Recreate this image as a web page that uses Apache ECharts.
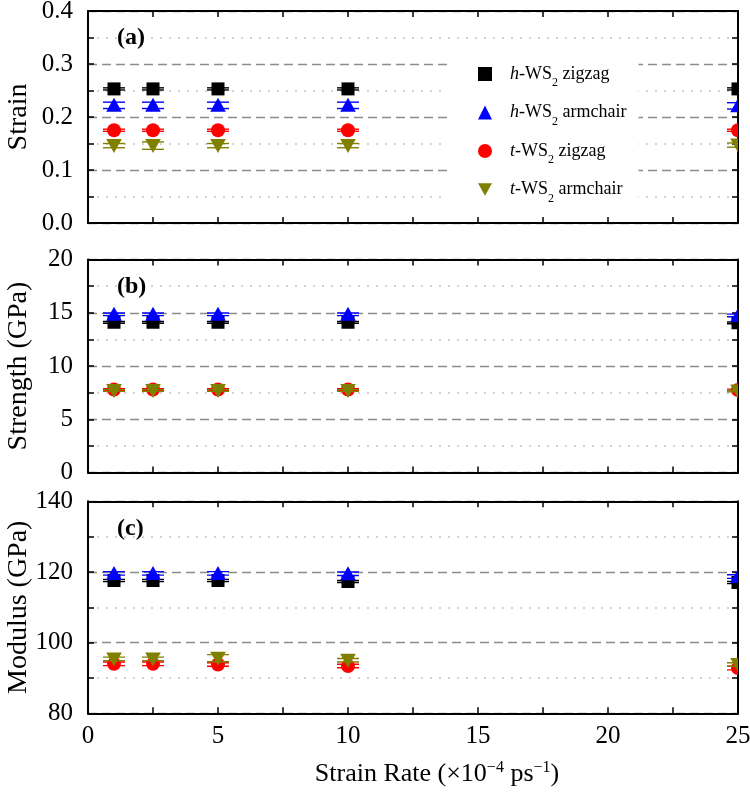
<!DOCTYPE html>
<html>
<head>
<meta charset="utf-8">
<script src="https://cdn.jsdelivr.net/npm/echarts@6/dist/echarts.min.js"></script>
<style>html,body{margin:0;padding:0;background:#fff}#c{width:750px;height:802px}</style>
</head>
<body>
<div id="c"></div>
<script>
// ---------- data ----------
const rates = [1, 2.5, 5, 10, 25];
const seriesNames = ['h-WS2 zigzag', 'h-WS2 armchair', 't-WS2 zigzag', 't-WS2 armchair'];

// (a) Strain
const strainHZig = [0.253, 0.253, 0.253, 0.253, 0.253];
const strainHArm = [0.222, 0.222, 0.222, 0.222, 0.221];
const strainTZig = [0.175, 0.175, 0.175, 0.175, 0.175];
const strainTArm = [0.146, 0.146, 0.146, 0.146, 0.147];
const strainErrHZig = [0.002, 0.002, 0.002, 0.002, 0.002];
const strainErrHArm = [0.006, 0.006, 0.006, 0.006, 0.006];
const strainErrTZig = [0.002, 0.002, 0.002, 0.002, 0.002];
const strainErrTArm = [0.004, 0.007, 0.004, 0.004, 0.004];

// (b) Strength (GPa)
const strengthHZig = [14.1, 14.1, 14.1, 14.1, 14.05];
const strengthHArm = [14.85, 14.85, 14.85, 14.85, 14.75];
const strengthTZig = [7.8, 7.8, 7.8, 7.8, 7.75];
const strengthTArm = [7.7, 7.7, 7.7, 7.7, 7.65];
const strengthErrHZig = [0.08, 0.08, 0.08, 0.08, 0.08];
const strengthErrHArm = [0.12, 0.12, 0.12, 0.12, 0.12];
const strengthErrTZig = [0.08, 0.08, 0.08, 0.08, 0.08];
const strengthErrTArm = [0.08, 0.08, 0.08, 0.08, 0.08];

// (c) Modulus (GPa)
const modulusHZig = [117.6, 117.6, 117.6, 117.3, 117.0];
const modulusHArm = [119.6, 119.6, 119.6, 119.5, 118.7];
const modulusTZig = [94.0, 94.0, 93.8, 93.4, 92.8];
const modulusTArm = [95.4, 95.4, 95.6, 95.0, 93.8];
const modulusErrHZig = [0.3, 0.3, 0.3, 0.3, 0.3];
const modulusErrHArm = [0.5, 0.5, 0.5, 0.5, 0.5];
const modulusErrTZig = [0.5, 0.5, 0.5, 0.5, 0.5];
const modulusErrTArm = [0.5, 0.5, 1.0, 0.5, 0.5];

// axis ranges / ticks
const xRange = {min: 0, max: 25, interval: 5};
const strainRange = {min: 0, max: 0.4, interval: 0.1};
const strengthRange = {min: 0, max: 20, interval: 5};
const modulusRange = {min: 80, max: 140, interval: 20};
const panelLabels = ['(a)', '(b)', '(c)'];
const yNames = ['Strain', 'Strength (GPa)', 'Modulus (GPa)'];

// ---------- styles ----------
const FONT = 'Liberation Serif';
const colors = ['#000000', '#0000ff', '#ff0000', '#808000'];
const shapes = ['square', 'triangle', 'circle', 'down'];

function makeRender(shape, color) {
  return function (params, api) {
    const x = api.value(0), y = api.value(1), e = api.value(2);
    const p = api.coord([x, y]);
    const t = api.coord([x, y + e]);
    const b = api.coord([x, y - e]);
    const cap = 11;
    const ls = {stroke: color, lineWidth: 1.4};
    const children = [
      {type: 'line', shape: {x1: p[0], y1: t[1], x2: p[0], y2: b[1]}, style: ls},
      {type: 'line', shape: {x1: p[0] - cap, y1: t[1], x2: p[0] + cap, y2: t[1]}, style: ls},
      {type: 'line', shape: {x1: p[0] - cap, y1: b[1], x2: p[0] + cap, y2: b[1]}, style: ls}
    ];
    let m;
    if (shape === 'square') {
      m = {type: 'rect', shape: {x: p[0] - 6.5, y: p[1] - 6.5, width: 13, height: 13}, style: {fill: color}};
    } else if (shape === 'triangle') {
      m = {type: 'polygon', shape: {points: [[p[0], p[1] - 7.5], [p[0] + 7.8, p[1] + 6.5], [p[0] - 7.8, p[1] + 6.5]]}, style: {fill: color}};
    } else if (shape === 'circle') {
      m = {type: 'circle', shape: {cx: p[0], cy: p[1], r: 7}, style: {fill: color}};
    } else {
      m = {type: 'polygon', shape: {points: [[p[0] - 7.8, p[1] - 6.5], [p[0] + 7.8, p[1] - 6.5], [p[0], p[1] + 7.5]]}, style: {fill: color}};
    }
    children.push(m);
    return {type: 'group', children: children};
  };
}

const grids = [
  {left: 88, right: 12, top: 11, height: 212, outerBoundsMode: 'none', containLabel: false},
  {left: 88, right: 12, top: 259.5, height: 213, outerBoundsMode: 'none', containLabel: false},
  {left: 88, right: 12, top: 501.3, height: 212, outerBoundsMode: 'none', containLabel: false}
];
const yRanges = [strainRange, strengthRange, modulusRange];

const axisLine = {show: true, onZero: false, lineStyle: {color: '#000', width: 2}};
const tickStyle = {show: true, inside: true, length: 6, lineStyle: {color: '#000', width: 1.5}};
const minorTick = {show: true, splitNumber: 2, length: 6, lineStyle: {color: '#000', width: 1.5}};

const xAxes = [], yAxes = [];
for (let g = 0; g < 3; g++) {
  const last = g === 2;
  xAxes.push({
    type: 'value', gridIndex: g, position: 'bottom', min: xRange.min, max: xRange.max, interval: xRange.interval,
    axisLine: axisLine, axisTick: tickStyle, minorTick: minorTick,
    axisLabel: {show: last, margin: 11, color: '#000', fontFamily: FONT, fontSize: 25},
    splitLine: {show: false}, minorSplitLine: {show: false},
    name: last ? 'Strain Rate (×10{sup|−4} ps{sup|−1})' : '',
    nameLocation: 'middle', nameGap: 46, nameMoveOverlap: false,
    nameTextStyle: {color: '#000', fontFamily: FONT, fontSize: 26, padding: [0, 0, 0, 48],
      rich: {sup: {fontSize: 16, fontFamily: FONT, color: '#000', verticalAlign: 'top', lineHeight: 30}}}
  });
  xAxes.push({
    type: 'value', gridIndex: g, position: 'top', min: xRange.min, max: xRange.max, interval: xRange.interval,
    axisLine: axisLine, axisTick: tickStyle, minorTick: minorTick,
    axisLabel: {show: false}, splitLine: {show: false}, minorSplitLine: {show: false}
  });
  const r = yRanges[g];
  yAxes.push({
    type: 'value', gridIndex: g, position: 'left', min: r.min, max: r.max, interval: r.interval,
    axisLine: axisLine, axisTick: tickStyle, minorTick: minorTick,
    axisLabel: {show: true, margin: 15, color: '#000', fontFamily: FONT, fontSize: 25,
      formatter: g === 0 ? (v => v.toFixed(1)) : (v => String(v))},
    splitLine: {show: true, lineStyle: {color: '#8c8c8c', width: 1.3, type: [9, 5]}},
    minorSplitLine: {show: true, lineStyle: {color: '#c4c4c4', width: 1.5, type: [2, 7]}},
    name: yNames[g], nameLocation: 'middle', nameGap: 55, nameMoveOverlap: false,
    nameTextStyle: {color: '#000', fontFamily: FONT, fontSize: 28}
  });
  yAxes.push({
    type: 'value', gridIndex: g, position: 'right', min: r.min, max: r.max, interval: r.interval,
    axisLine: axisLine, axisTick: tickStyle, minorTick: minorTick,
    axisLabel: {show: false}, splitLine: {show: false}, minorSplitLine: {show: false}
  });
}

const panelData = [
  [[strainHZig, strainErrHZig], [strainHArm, strainErrHArm], [strainTZig, strainErrTZig], [strainTArm, strainErrTArm]],
  [[strengthHZig, strengthErrHZig], [strengthHArm, strengthErrHArm], [strengthTZig, strengthErrTZig], [strengthTArm, strengthErrTArm]],
  [[modulusHZig, modulusErrHZig], [modulusHArm, modulusErrHArm], [modulusTZig, modulusErrTZig], [modulusTArm, modulusErrTArm]]
];

const series = [];
for (let g = 0; g < 3; g++) {
  for (let s = 0; s < 4; s++) {
    const vals = panelData[g][s][0], errs = panelData[g][s][1];
    series.push({
      type: 'custom', name: seriesNames[s], xAxisIndex: g * 2, yAxisIndex: g * 2,
      clip: true, z: 3 + s,
      color: colors[s], itemStyle: {color: colors[s]},
      renderItem: makeRender(shapes[s], colors[s]),
      encode: {x: 0, y: 1},
      data: rates.map((r, i) => [r, vals[i], errs[i]])
    });
  }
}

const legendRich = {
  it: {fontFamily: FONT, fontSize: 18, fontStyle: 'italic', color: '#000'},
  n: {fontFamily: FONT, fontSize: 18, color: '#000'},
  sub: {fontFamily: FONT, fontSize: 12, color: '#000', verticalAlign: 'bottom', lineHeight: 14, padding: [0, 0, -6, 0]}
};

const option = {
  animation: false,
  backgroundColor: '#fff',
  grid: grids,
  xAxis: xAxes,
  yAxis: yAxes,
  title: panelLabels.map((t, i) => ({
    text: t, left: 117, top: [26, 275, 517][i], padding: 0,
    textStyle: {fontFamily: FONT, fontSize: 24, fontWeight: 'bold', color: '#000'}
  })),
  legend: {
    orient: 'vertical', left: 448, top: 56, padding: [9, 12, 9, 30],
    itemWidth: 14, itemHeight: 14, itemGap: 14.5,
    backgroundColor: '#fff',
    data: [
      {name: seriesNames[0], icon: 'rect'},
      {name: seriesNames[1], icon: 'triangle'},
      {name: seriesNames[2], icon: 'circle'},
      {name: seriesNames[3], icon: 'path://M0,0L10,0L5,9Z'}
    ],
    formatter: function (name) {
      const p = name.split(' ');
      const pre = p[0];
      return '{it|' + pre.charAt(0) + '}{n|-WS}{sub|2}{n| ' + p[1] + '}';
    },
    textStyle: {padding: [0, 0, 0, 13], rich: legendRich}
  },
  series: series
};

const chart = echarts.init(document.getElementById('c'), null, {renderer: 'canvas'});
chart.setOption(option);
</script>
</body>
</html>
